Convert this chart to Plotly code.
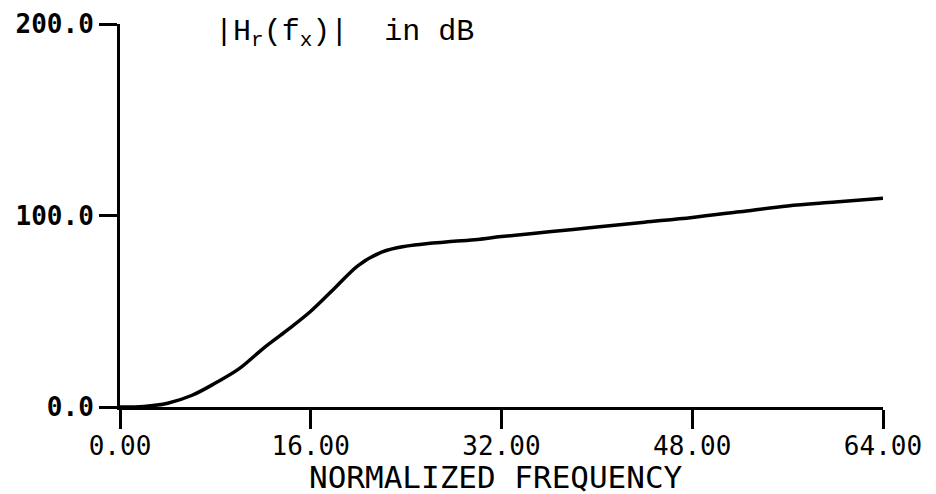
import plotly.graph_objects as go

freq = [0, 2, 4, 6, 8, 10, 12, 14, 16, 18, 20, 22, 24, 26, 28, 30, 32, 36, 40, 44, 48, 52, 56, 60, 64]
mag_db = [0, 0.3, 2, 6, 12.5, 20, 30.5, 40, 50, 62, 74, 81, 84, 85.5, 86.5, 87.5, 89, 91.5, 94, 96.5, 99, 102, 105, 107, 109]

x_ticks = [0, 16, 32, 48, 64]
x_tick_text = ["0.00", "16.00", "32.00", "48.00", "64.00"]
y_ticks = [0, 100, 200]
y_tick_text = ["0.0", "100.0", "200.0"]
x_title = "NORMALIZED FREQUENCY"
y_title = "|H<sub>r</sub>(f<sub>x</sub>)|  in dB"

fig = go.Figure()
fig.add_trace(go.Scatter(x=freq, y=mag_db, mode="lines", line=dict(color="black", width=3.5, shape="spline"),
                         showlegend=False, hoverinfo="skip"))

# page body has an 8px default margin, so the figure is sized 8px smaller
fig.update_layout(
    template="none",
    width=928, height=486,
    margin=dict(l=112, r=53, t=16, b=87),
    paper_bgcolor="white", plot_bgcolor="white",
    xaxis=dict(range=[0, 64], tickvals=x_ticks, ticktext=x_tick_text, automargin=False,
               showgrid=False, zeroline=False, showline=True, linecolor="black", linewidth=3,
               ticks="outside", ticklen=19, tickwidth=2.5, tickcolor="black", ticklabelstandoff=-5,
               tickfont=dict(family="DejaVu Sans Mono", size=26, color="black")),
    yaxis=dict(range=[0, 200], tickvals=y_ticks, ticktext=y_tick_text, automargin=False,
               showgrid=False, zeroline=False, showline=True, linecolor="black", linewidth=3,
               ticks="outside", ticklen=18, tickwidth=2.5, tickcolor="black",
               tickfont=dict(family="DejaVu Sans Mono", size=26, weight="bold", color="black")),
    annotations=[
        dict(text=y_title, x=0.122, y=0.975, xref="paper", yref="paper",
             xanchor="left", yanchor="middle", showarrow=False,
             font=dict(family="Liberation Mono, DejaVu Sans Mono", size=30, color="black")),
        dict(text=x_title, x=0.493, y=-0.182, xref="paper", yref="paper",
             xanchor="center", yanchor="middle", showarrow=False,
             font=dict(family="DejaVu Sans Mono", size=31, color="black")),
    ],
)

fig.write_html("out.html")
